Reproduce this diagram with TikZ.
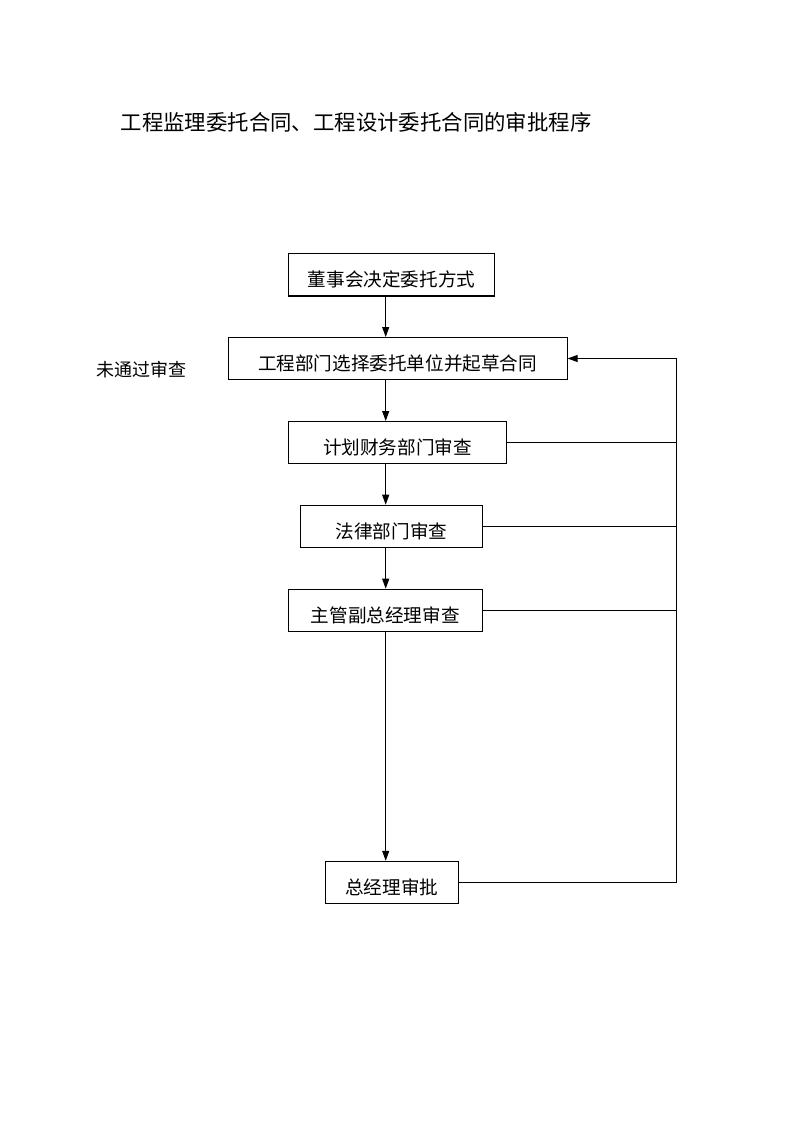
\documentclass[tikz,border=0pt]{standalone}
\usepackage{fontspec}
\newfontfamily\cjk{Noto Sans CJK SC}
\usetikzlibrary{arrows.meta}
\begin{document}
\begin{tikzpicture}[x=1pt,y=-1pt,
  boxs/.style={draw,line width=1pt,rectangle,inner sep=0pt,text height=25pt,text depth=1pt,font=\cjk\fontsize{18.6}{22}\selectfont},
  arr/.style={line width=1pt,-{Triangle[length=10pt,width=7pt]}},
  ln/.style={line width=1pt}]
\useasboundingbox[fill=white] (0,0) rectangle (800,1131);
\node[font=\cjk\fontsize{21.4}{25}\selectfont] (title) at (356,122) {工程监理委托合同、工程设计委托合同的审批程序};
\node[boxs,minimum width=206pt,minimum height=42pt] (b1) at (391.6,275) {董事会决定委托方式};
\node[boxs,minimum width=339pt,minimum height=42pt] (b2) at (397.6,358.5) {工程部门选择委托单位并起草合同};
\node[boxs,minimum width=218pt,minimum height=42pt] (b3) at (397.5,442.5) {计划财务部门审查};
\node[boxs,minimum width=182pt,minimum height=42pt] (b4) at (391.5,526.2) {法律部门审查};
\node[boxs,minimum width=194pt,minimum height=42pt] (b5) at (385.3,610.2) {主管副总经理审查};
\node[boxs,minimum width=133pt,minimum height=42pt] (b6) at (391.7,882.3) {总经理审批};
\node[font=\cjk\fontsize{18}{21}\selectfont] (lab) at (141.5,370) {未通过审查};
\coordinate (ax) at (385.7,0);
\coordinate (rx) at (676,0);
\draw[arr] (b1.south -| ax) -- (b2.north -| ax);
\draw[arr] (b2.south -| ax) -- (b3.north -| ax);
\draw[arr] (b3.south -| ax) -- (b4.north -| ax);
\draw[arr] (b4.south -| ax) -- (b5.north -| ax);
\draw[arr] (b5.south -| ax) -- (b6.north -| ax);
\draw[ln] (b3.east) -- (b3.east -| rx);
\draw[ln] (b4.east) -- (b4.east -| rx);
\draw[ln] (b5.east) -- (b5.east -| rx);
\draw[arr] (b6.east) -- (b6.east -| rx) -- (b2.east -| rx) -- (b2.east);
\end{tikzpicture}
\end{document}
